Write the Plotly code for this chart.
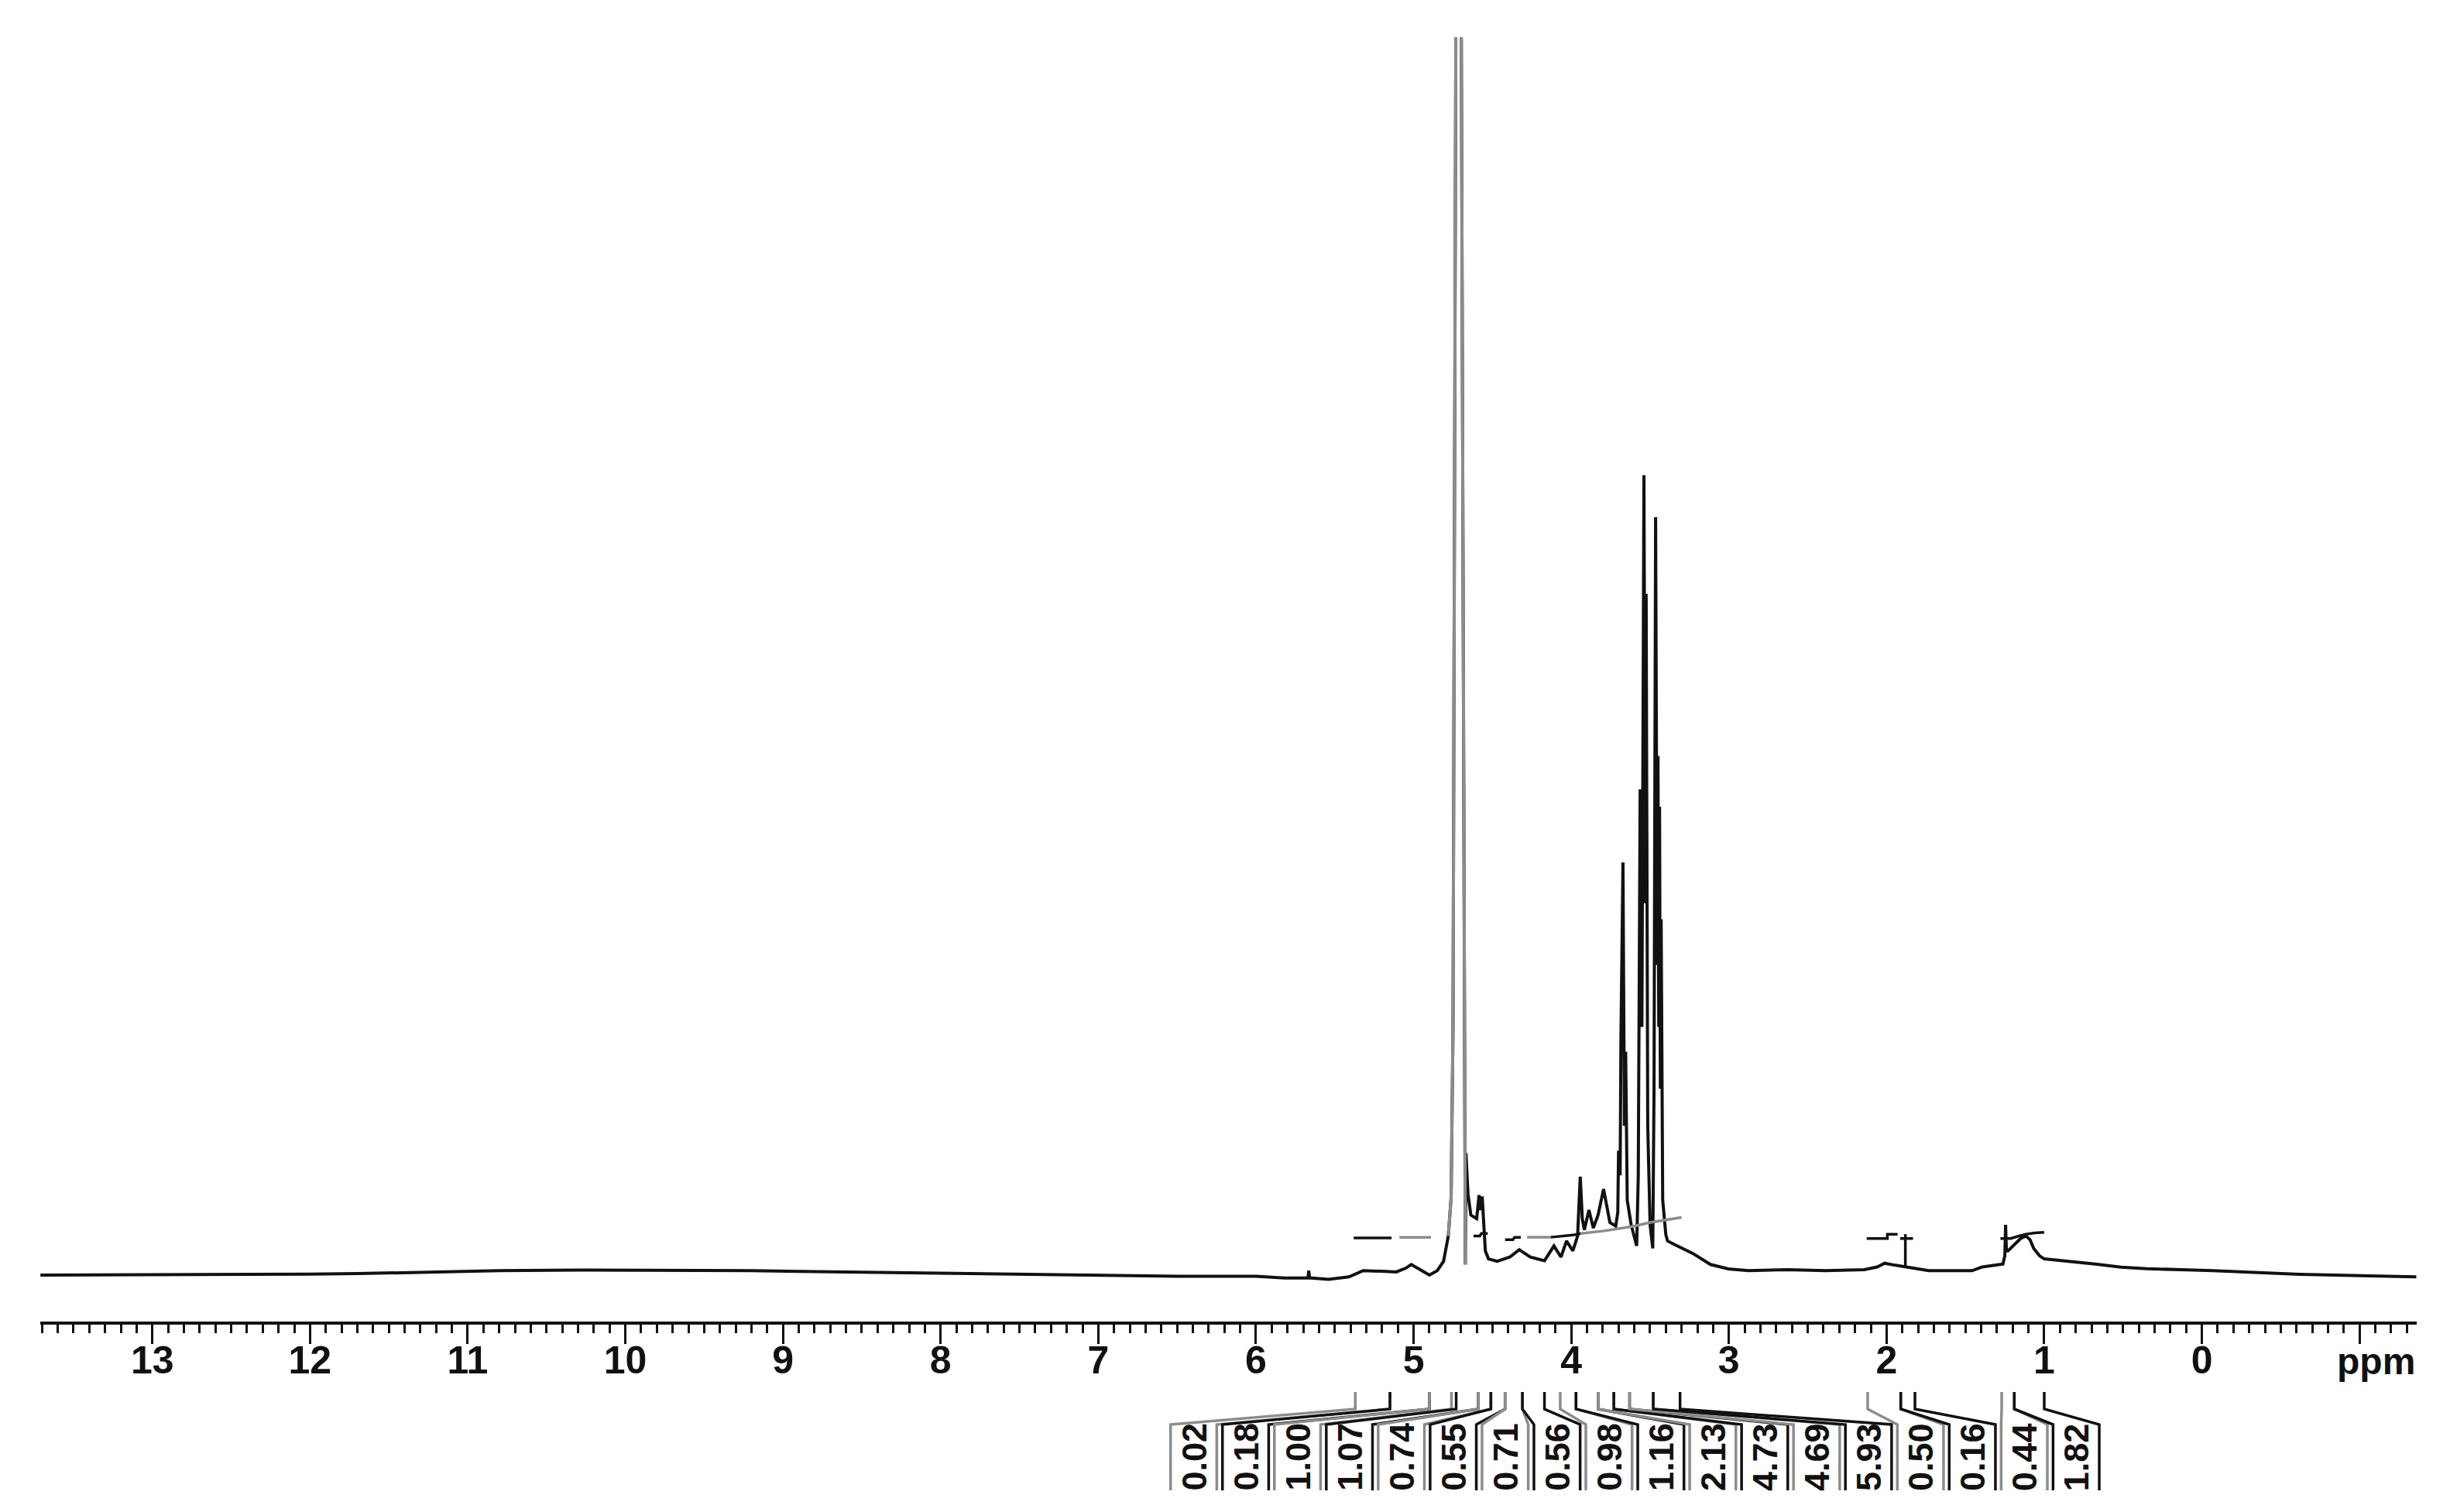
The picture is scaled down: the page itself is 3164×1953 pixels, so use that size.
import plotly.graph_objects as go

# 1H NMR trace: ppm and intensity
# (intensity 0 = baseline, 100 = top edge of the frame)
ppm = [13.71, 13.0, 12.5, 12.0, 11.7, 11.2, 10.8, 10.3, 10.0, 9.5, 9.2, 8.6, 8.0, 7.5,
       7.0, 6.5, 6.0, 5.82, 5.67, 5.665, 5.66, 5.54, 5.41, 5.32, 5.2, 5.11, 5.05, 5.015,
       4.96, 4.90, 4.85, 4.81, 4.78, 4.762, 4.75, 4.74, 4.73, 4.70, 4.685, 4.672, 4.668,
       4.655, 4.637, 4.60, 4.585, 4.575, 4.565, 4.55, 4.545, 4.525, 4.47, 4.39, 4.33,
       4.26, 4.17, 4.11, 4.065, 4.03, 3.99, 3.96, 3.943, 3.93, 3.917, 3.888, 3.86, 3.83,
       3.795, 3.755, 3.718, 3.705, 3.70, 3.69, 3.685, 3.672, 3.663, 3.655, 3.645, 3.62,
       3.60, 3.585, 3.575, 3.563, 3.552, 3.539, 3.53, 3.525, 3.515, 3.50, 3.483, 3.475,
       3.465, 3.455, 3.45, 3.445, 3.44, 3.435, 3.43, 3.42, 3.40, 3.389, 3.343, 3.23,
       3.117, 3.004, 2.876, 2.63, 2.385, 2.142, 2.06, 2.012, 1.95, 1.885, 1.733, 1.458,
       1.393, 1.262, 1.25, 1.245, 1.24, 1.23, 1.196, 1.15, 1.115, 1.09, 1.067, 1.03, 1.0,
       0.839, 0.676, 0.513, 0.35, 0.09, -0.07, -0.62, -1.36]
intensity = [-0.06, -0.05, 0.0, 0.02, 0.06, 0.2, 0.3, 0.35, 0.35, 0.32, 0.3, 0.2, 0.1, 0.0,
             -0.1, -0.15, -0.15, -0.3, -0.28, 0.3, -0.28, -0.4, -0.2, 0.3, 0.25, 0.2, 0.5, 0.8,
             0.4, -0.06, 0.3, 1.06, 3.1, 6.25, 20, 70, 110, 110, 40, 0.8, 9.8,
             6.5, 4.8, 4.5, 6.4, 5.2, 6.3, 3.0, 1.9, 1.25, 1.06, 1.4, 2.0,
             1.4, 1.1, 2.3, 1.4, 2.7, 1.9, 3.1, 7.9, 4.5, 3.6, 5.2, 3.75, 4.8,
             6.9, 4.2, 3.9, 5.0, 10.0, 8.0, 19.0, 33.3, 12.0, 18.0, 6.0, 4.0,
             3.0, 2.3, 8.0, 39.2, 20.0, 64.6, 30.0, 55.0, 12.0, 4.0, 2.1, 15.0,
             61.2, 25.0, 41.9, 20.0, 37.8, 15.0, 28.7, 6.0, 3.2, 2.7, 2.4, 1.7,
             0.8, 0.44, 0.3, 0.375, 0.3, 0.375, 0.6, 0.9, 0.75, 0.6, 0.3, 0.3,
             0.6, 0.83, 1.5, 4.0, 1.9, 1.9, 2.3, 2.9, 3.1, 2.8, 2.1, 1.5, 1.25,
             1.06, 0.83, 0.58, 0.46, 0.36, 0.3, 0.0, -0.2]

# residual water peak, drawn lighter on top
hdo_ppm = [4.78, 4.762, 4.75, 4.74, 4.73, 4.70, 4.685, 4.672]
hdo_intensity = [3.1, 6.25, 20, 70, 110, 110, 40, 0.8]

# integral curves drawn just above the baseline
integral_curve_ppm = [
    [5.38, 5.14],
    [5.09, 4.89],
    [4.62, 4.58, 4.57, 4.53],
    [4.42, 4.37, 4.36, 4.32],
    [4.28, 4.13],
    [4.13, 4.05, 3.98, 3.94],
    [3.94, 3.80, 3.70, 3.60, 3.50, 3.40, 3.30],
    [2.126, 1.995, 1.995, 1.93],
    [1.914, 1.832],
    [1.881, 1.881],
    [1.278, 1.213, 1.16, 1.115, 1.06, 1.0],
]
integral_curve_values = [
    [2.94, 2.94],
    [3.0, 3.0],
    [3.1, 3.1, 3.3, 3.3],
    [2.8, 2.8, 3.0, 3.0],
    [3.0, 3.0],
    [3.0, 3.1, 3.2, 3.3],
    [3.3, 3.5, 3.7, 3.9, 4.2, 4.4, 4.6],
    [2.9, 2.9, 3.25, 3.25],
    [2.9, 2.9],
    [3.25, 0.6],
    [2.9, 2.9, 3.1, 3.25, 3.35, 3.4],
]
integral_curve_gray = [False, True, False, False, True, False, True, False, False, False, False]

# integration regions and their values
integral_labels = ["0.02", "0.18", "1.00", "1.07", "0.74", "0.55", "0.71", "0.56", "0.98",
                   "1.16", "2.13", "4.73", "4.69", "5.93", "0.50", "0.16", "0.44", "1.82"]
integral_start = [5.37, 5.15, 4.90, 4.73, 4.59, 4.51, 4.42, 4.31, 4.07,
                  3.97, 3.83, 3.73, 3.63, 3.48, 2.12, 1.91, 1.27, 1.19]
integral_end = [5.15, 4.90, 4.76, 4.59, 4.51, 4.42, 4.31, 4.17, 3.97,
                3.83, 3.73, 3.63, 3.48, 3.31, 1.91, 1.82, 1.19, 1.00]

tick_values = [13, 12, 11, 10, 9, 8, 7, 6, 5, 4, 3, 2, 1, 0, -1]
tick_text = ["13", "12", "11", "10", "9", "8", "7", "6", "5", "4", "3", "2", "1", "0", ""]

# page geometry (pixels)
W, H = 3164, 1953
L, R, T, B = 44, 51, 40, 254
X_LEFT, X_RIGHT = 13.711, -1.3625
AXIS_Y = H - B
PLOT_W = W - L - R
PLOT_H = H - T - B

FONT = "Liberation Sans, Arial, sans-serif"
BLACK = "#111111"
GRAY = "#8c8c8c"


def ppm_to_paper(p):
    return (X_LEFT - p) / (X_LEFT - X_RIGHT)


def px_to_paper_x(px):
    return (px - L) / PLOT_W


def py_to_paper(py):
    return (AXIS_Y - py) / PLOT_H


fig = go.Figure()

fig.add_trace(go.Scatter(x=ppm, y=intensity, mode="lines",
                         line=dict(color=BLACK, width=4), hoverinfo="skip"))
fig.add_trace(go.Scatter(x=hdo_ppm, y=hdo_intensity, mode="lines",
                         line=dict(color=GRAY, width=4), hoverinfo="skip"))

for xs, ys, gray in zip(integral_curve_ppm, integral_curve_values, integral_curve_gray):
    fig.add_trace(go.Scatter(x=xs, y=ys, mode="lines",
                             line=dict(color=GRAY if gray else BLACK, width=3.5),
                             hoverinfo="skip"))

# integral region markers, fan lines and label boxes under the axis
box_x0, box_w = 1500, 67.04
mark_top, mark_bot = py_to_paper(1790), py_to_paper(1812)
box_top, box_bot = py_to_paper(1832), py_to_paper(1917)
shapes = []
annotations = []
for i, lab in enumerate(integral_labels):
    color = GRAY if i % 2 == 0 else BLACK
    left = px_to_paper_x(box_x0 + box_w * i)
    right = px_to_paper_x(box_x0 + box_w * (i + 1))
    for p, bx in ((integral_start[i], left + 0.0012), (integral_end[i], right - 0.0012)):
        mx = ppm_to_paper(p)
        path = (f"M {mx},{mark_top} L {mx},{mark_bot} "
                f"L {bx},{box_top} L {bx},{box_bot}")
        shapes.append(dict(type="path", path=path, xref="paper", yref="paper",
                           line=dict(color=color, width=3.5)))
    annotations.append(dict(x=(left + right) / 2, y=py_to_paper(1874),
                            xref="paper", yref="paper", xanchor="center", yanchor="middle",
                            text=lab, showarrow=False, textangle=-90,
                            font=dict(family=FONT, size=45, color=BLACK, weight="bold")))

annotations.append(dict(x=1, y=py_to_paper(1750), xref="paper", yref="paper",
                        xanchor="right", yanchor="middle", text="ppm", showarrow=False,
                        font=dict(family=FONT, size=48, color=BLACK, weight="bold")))

fig.update_layout(
    width=W, height=H,
    margin=dict(l=L, r=R, t=T, b=B),
    paper_bgcolor="white", plot_bgcolor="white",
    showlegend=False,
    shapes=shapes,
    annotations=annotations,
    xaxis=dict(range=[X_LEFT, X_RIGHT], showgrid=False, zeroline=False,
               showline=True, linecolor=BLACK, linewidth=4,
               ticks="outside", ticklen=25, tickwidth=3, tickcolor=BLACK,
               tickmode="array", tickvals=tick_values, ticktext=tick_text,
               tickfont=dict(family=FONT, size=50, color=BLACK, weight="bold"),
               ticklabelstandoff=-22,
               minor=dict(ticks="outside", dtick=0.1, tick0=0, ticklen=11,
                          tickwidth=2.5, tickcolor=BLACK, showgrid=False)),
    yaxis=dict(range=[-3.8125, 100], visible=False),
)

fig.write_html("out.html")
